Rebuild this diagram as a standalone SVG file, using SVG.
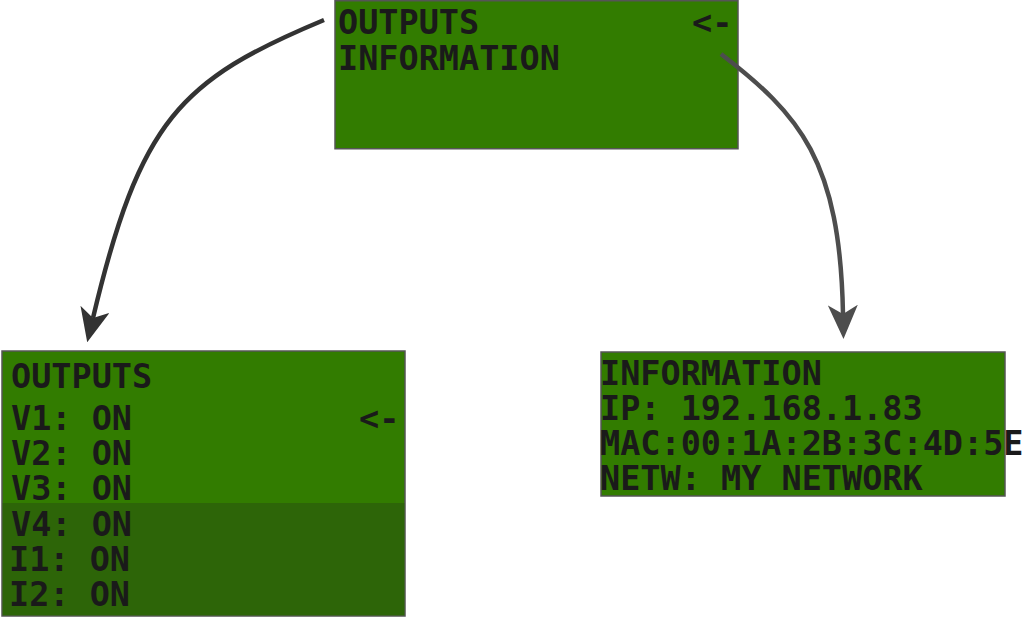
<svg xmlns="http://www.w3.org/2000/svg" width="1024" height="617" viewBox="0 0 1024 617">
  <style>
    .lcd { fill: #327c00; stroke: #555555; stroke-width: 1.5; }
    .lcd-dark { fill: #2d6508; stroke: none; }
    .t { font-family: "DejaVu Sans Mono", "Liberation Mono", monospace; font-weight: bold; font-size: 33.5px; fill: #1a1a1a; }
    .conn { fill: none; stroke-width: 4.5; }
  </style>
  <defs>
    <marker id="ah1" markerUnits="userSpaceOnUse" viewBox="0 0 34 30" markerWidth="34" markerHeight="30" refX="9" refY="15" orient="auto">
      <path d="M0,0 L34,15 L0,30 L9,15 Z" fill="#333333"/>
    </marker>
    <marker id="ah2" markerUnits="userSpaceOnUse" viewBox="0 0 34 30" markerWidth="34" markerHeight="30" refX="9" refY="15" orient="auto">
      <path d="M0,0 L34,15 L0,30 L9,15 Z" fill="#4d4d4d"/>
    </marker>
  </defs>

  <g id="menu">
    <rect class="lcd" x="335" y="0.75" width="403" height="148"/>
    <text class="t" x="338" y="34">OUTPUTS</text>
    <text class="t" x="692" y="34">&lt;-</text>
    <text class="t" x="338" y="70">INFORMATION</text>
  </g>

  <g id="outputs">
    <rect class="lcd" x="2" y="351" width="403" height="265"/>
    <rect class="lcd-dark" x="2.75" y="503" width="401.5" height="112.25"/>
    <text class="t" x="11" y="388">OUTPUTS</text>
    <text class="t" x="11" y="430">V1: ON</text>
    <text class="t" x="359" y="430">&lt;-</text>
    <text class="t" x="11" y="465">V2: ON</text>
    <text class="t" x="11" y="500">V3: ON</text>
    <text class="t" x="11" y="536">V4: ON</text>
    <text class="t" x="9" y="571">I1: ON</text>
    <text class="t" x="9" y="606">I2: ON</text>
  </g>

  <g id="information">
    <rect class="lcd" x="601" y="352" width="404" height="144"/>
    <text class="t" x="600" y="385">INFORMATION</text>
    <text class="t" x="600" y="420">IP: 192.168.1.83</text>
    <text class="t" x="600" y="455">MAC:00:1A:2B:3C:4D:5E</text>
    <text class="t" x="600" y="490">NETW: MY NETWORK</text>
  </g>

  <g id="connectors">
    <path class="conn" stroke="#333333" d="M324,20 C180,80 140,120 93,318" marker-end="url(#ah1)"/>
    <path class="conn" stroke="#4d4d4d" d="M721,54 C800,115 840,160 843,314" marker-end="url(#ah2)"/>
  </g>
</svg>
